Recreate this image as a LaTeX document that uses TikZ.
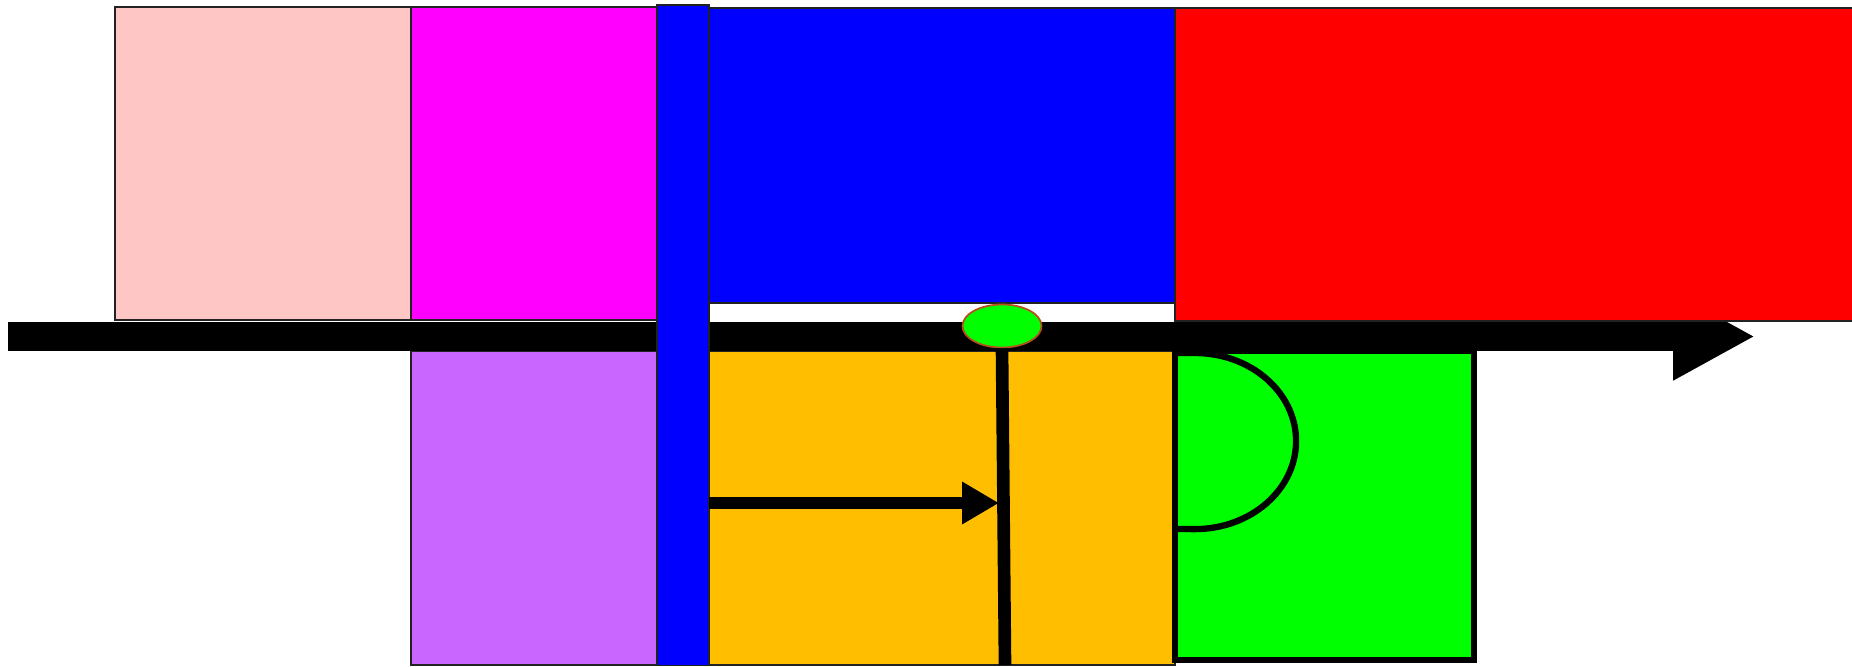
\documentclass[tikz,border=0pt]{standalone}
\usepackage{xcolor}
\usepackage{tikz}
\usetikzlibrary{arrows.meta,positioning,shapes.geometric}
\definecolor{ink}{HTML}{222222}
\definecolor{blush}{HTML}{FFC6C6}
\definecolor{fuchsia}{HTML}{FF00FF}
\definecolor{orchid}{HTML}{C866FF}
\definecolor{amber}{HTML}{FFBF00}
\definecolor{lime}{HTML}{00FF00}
\definecolor{rust}{HTML}{B4501E}
\tikzset{
  block scene/.style={
    x=0.01cm,
    y=-0.01cm,
    line join=miter
  },
  panelbox/.style={
    draw=ink,
    line width=0.45pt,
    inner sep=0pt,
    outer sep=0pt,
    anchor=north west
  },
  limebox/.style={
    panelbox,
    fill=lime,
    draw=black,
    line width=1.8pt
  },
  mainarrow/.style={
    draw=black,
    line width=8.25pt,
    -{Triangle[length=23.3pt,width=23.3pt]}
  },
  pusharrow/.style={
    draw=black,
    line width=3.4pt,
    -{Triangle[length=10.5pt,width=11.4pt]}
  },
  stemline/.style={
    draw=black,
    line width=3.6pt
  },
  capline/.style={
    draw=black,
    line width=1.8pt
  }
}
\begin{document}
\begin{tikzpicture}[block scene]
\useasboundingbox (0,0) rectangle (1852,667);
% upper row
\node[panelbox, fill=blush, minimum width=2.96cm, minimum height=3.13cm] (pinkbox) at (115,7) {};
\node[panelbox, fill=fuchsia, minimum width=2.46cm, minimum height=3.13cm] (magbox) at (411,7) {};
\node[panelbox, fill=blue, minimum width=4.66cm, minimum height=2.95cm] (bluebox) at (709,8) {};
% lower row
\node[panelbox, fill=orchid, minimum width=2.46cm, minimum height=3.14cm] (purplebox) at (411,351) {};
\node[panelbox, fill=amber, minimum width=4.66cm, minimum height=3.14cm] (amberbox) at (709,351) {};
\node[limebox, minimum width=2.99cm, minimum height=3.09cm] (greenbox) at (1175,351) {};
\draw[capline] (1177,353) -- (1195,353) arc[start angle=90, end angle=-90, x radius=1.01cm, y radius=0.88cm] -- (1177,529);
% long axis
\coordinate (axisstart) at (8,336.5);
\coordinate (axistip) at (1755,336.5);
\draw[mainarrow] (axisstart) -- (axistip);
\node[panelbox, fill=red, minimum width=6.85cm, minimum height=3.13cm] (redbox) at (1175,8) {};
\node[panelbox, fill=blue, minimum width=0.52cm, minimum height=6.6cm] (bluebar) at (657,5) {};
% pivot
\node[ellipse, draw=rust, line width=0.5pt, fill=lime, minimum width=0.79cm, minimum height=0.43cm, inner sep=0pt] (pivot) at (1002,326) {};
\coordinate (stembase) at (1005,665);
\draw[stemline] (pivot.south) -- (stembase);
\coordinate (pushstart) at (709,503);
\coordinate (pushend) at (999,503);
\draw[pusharrow] (pushstart) -- (pushend);
\end{tikzpicture}
\end{document}
